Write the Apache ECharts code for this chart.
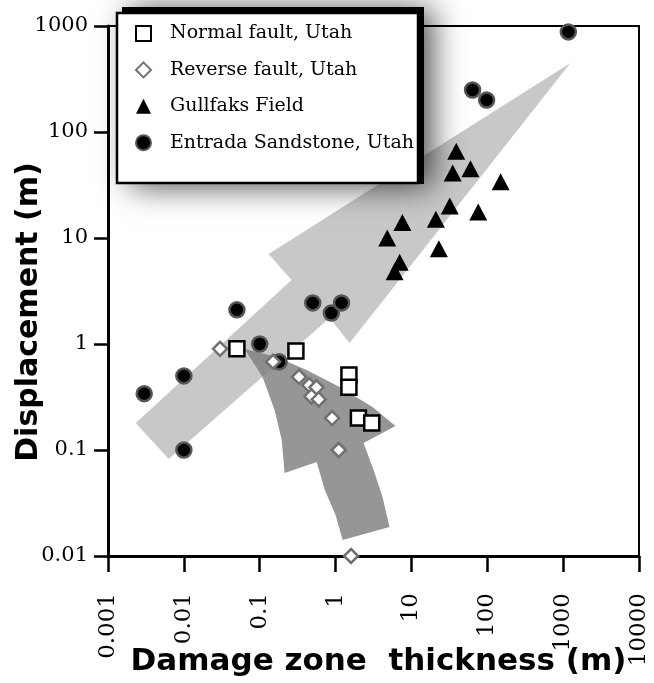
<!DOCTYPE html>
<html><head><meta charset="utf-8">
<script src="https://cdn.jsdelivr.net/npm/echarts@6/dist/echarts.min.js"></script>
<style>html,body{margin:0;padding:0;background:#fff}#c{width:654px;height:683px}</style>
</head><body><div id="c"></div><script>
// Tick labels
const xTickLabels = ['0.001','0.01','0.1','1','10','100','1000','10000'];
const yTickLabels = ['0.01','0.1','1','10','100','1000'];

// Series names
const seriesNames = ['Normal fault, Utah','Reverse fault, Utah','Gullfaks Field','Entrada Sandstone, Utah'];

// Normal fault, Utah
const normalX = [0.05, 0.3, 1.5, 1.5, 2.0, 3.0];
const normalY = [0.9, 0.86, 0.51, 0.39, 0.2, 0.18];
// Reverse fault, Utah
const reverseX = [0.03, 0.15, 0.33, 0.45, 0.56, 0.48, 0.6, 0.9, 1.1, 1.6];
const reverseY = [0.9, 0.68, 0.49, 0.41, 0.39, 0.32, 0.3, 0.2, 0.1, 0.01];
// Gullfaks Field
const gullX = [39, 35, 60, 150, 32, 76, 7.6, 21, 4.8, 23, 7, 6];
const gullY = [66, 41, 45, 34, 20, 17.6, 14, 15, 10, 7.9, 5.9, 4.8];
// Entrada Sandstone, Utah
const entradaX = [0.003, 0.01, 0.01, 0.05, 0.1, 0.18, 0.5, 0.88, 1.2, 64, 98, 1170];
const entradaY = [0.34, 0.5, 0.1, 2.1, 1.0, 0.68, 2.44, 1.96, 2.44, 249, 200, 880];

// Trend arrows (outline vertices in data units)
const lightArrowX = [0.00232, 0.263, 0.131, 1247, 1.53, 0.834, 0.00632];
const lightArrowY = [0.180, 4.02, 7.06, 448, 1.02, 1.76, 0.0822];
const darkArrowX = [0.0632, 0.167, 0.415, 1.13, 3.07, 6.17, 2.34, 3.17, 4.16, 5.14, 1.24, 1.0, 0.721, 0.564, 0.213, 0.195, 0.157, 0.109];
const darkArrowY = [0.898, 0.753, 0.569, 0.393, 0.255, 0.168, 0.1164, 0.0647, 0.0361, 0.0188, 0.01416, 0.0244, 0.042, 0.0771, 0.0607, 0.124, 0.238, 0.489];

function pairs(xs, ys){ return xs.map((x,i)=>[x, ys[i]]); }

function polySeries(xs, ys, fill, z){
  const pts = pairs(xs, ys);
  return {
    type:'custom', silent:true, z:z, data: pts, encode:{x:0,y:1},
    renderItem: function(params, api){
      if (params.dataIndex !== 0) return null;
      return {type:'polygon', shape:{points: pts.map(p=>api.coord(p))}, style:{fill:fill}};
    }
  };
}

const chart = echarts.init(document.getElementById('c'), null, {renderer:'canvas'});
chart.setOption({
  animation:false,
  backgroundColor:'#fff',
  grid:{left:108, right:15, top:26, bottom:127, show:true, borderColor:'#000', borderWidth:2, backgroundColor:'transparent', outerBoundsMode:'none'},
  xAxis:{
    type:'log', logBase:10, min:0.001, max:10000,
    axisLine:{show:true, lineStyle:{color:'#000', width:3}},
    axisTick:{show:true, length:16, lineStyle:{color:'#000', width:2.5}},
    minorTick:{show:false}, splitLine:{show:false},
    axisLabel:{rotate:90, margin:37, fontFamily:'DejaVu Serif', fontSize:23, color:'#000',
      formatter:v=>xTickLabels[Math.round(Math.log10(v))+3]},
    name:'Damage zone  thickness (m)', nameLocation:'middle', nameGap:90, nameMoveOverlap:false,
    nameTextStyle:{fontFamily:'DejaVu Sans', fontWeight:'bold', fontSize:31, color:'#000', padding:[0,0,0,10]}
  },
  yAxis:{
    type:'log', logBase:10, min:0.01, max:1000,
    axisLine:{show:true, lineStyle:{color:'#000', width:3}},
    axisTick:{show:true, length:14, lineStyle:{color:'#000', width:2.5}},
    minorTick:{show:false}, splitLine:{show:false},
    axisLabel:{margin:20, fontFamily:'DejaVu Serif', fontSize:21, color:'#000',
      formatter:v=>yTickLabels[Math.round(Math.log10(v))+2]},
    name:'Displacement (m)', nameLocation:'middle', nameGap:64, nameMoveOverlap:false,
    nameTextStyle:{fontFamily:'DejaVu Sans', fontWeight:'bold', fontSize:30, color:'#000', padding:[0,42,0,0]}
  },
  legend:{
    orient:'vertical', left:135, top:24, padding:0, itemGap:17.4, itemWidth:15, itemHeight:15, z:20,
    selectedMode:false,
    textStyle:{fontFamily:'DejaVu Serif', fontSize:19, color:'#000', lineHeight:15, padding:[0,0,0,14]},
    data:[
      {name:seriesNames[0], icon:'rect'},
      {name:seriesNames[1], icon:'diamond'},
      {name:seriesNames[2], icon:'triangle'},
      {name:seriesNames[3], icon:'circle'}
    ]
  },
  graphic:[
    {type:'rect', z:10, silent:true, shape:{x:122, y:7, width:302, height:177},
     style:{fill:'#000', shadowBlur:30, shadowColor:'rgba(0,0,0,0.7)', shadowOffsetX:8, shadowOffsetY:2}},
    {type:'rect', z:11, silent:true, shape:{x:117, y:13, width:301, height:170},
     style:{fill:'#fff', stroke:'#000', lineWidth:2.5}}
  ],
  series:[
    polySeries(lightArrowX, lightArrowY, '#c8c8c8', 1),
    polySeries(darkArrowX, darkArrowY, 'rgba(127,127,127,0.82)', 1.5),
    {name:seriesNames[3], type:'scatter', z:3, symbol:'circle', symbolSize:15, data:pairs(entradaX, entradaY),
     itemStyle:{color:'#000', borderColor:'#555', borderWidth:2.5, opacity:1}},
    {name:seriesNames[2], type:'scatter', z:3, symbol:'triangle', symbolSize:[18,17], data:pairs(gullX, gullY),
     itemStyle:{color:'#000', opacity:1}},
    {name:seriesNames[1], type:'scatter', z:4, symbol:'diamond', symbolSize:14, data:pairs(reverseX, reverseY),
     itemStyle:{color:'#fff', borderColor:'#707070', borderWidth:2.5, opacity:1}},
    {name:seriesNames[0], type:'scatter', z:5, symbol:'rect', symbolSize:15, data:pairs(normalX, normalY),
     itemStyle:{color:'#fff', borderColor:'#000', borderWidth:2.5, opacity:1}}
  ]
});
</script></body></html>
